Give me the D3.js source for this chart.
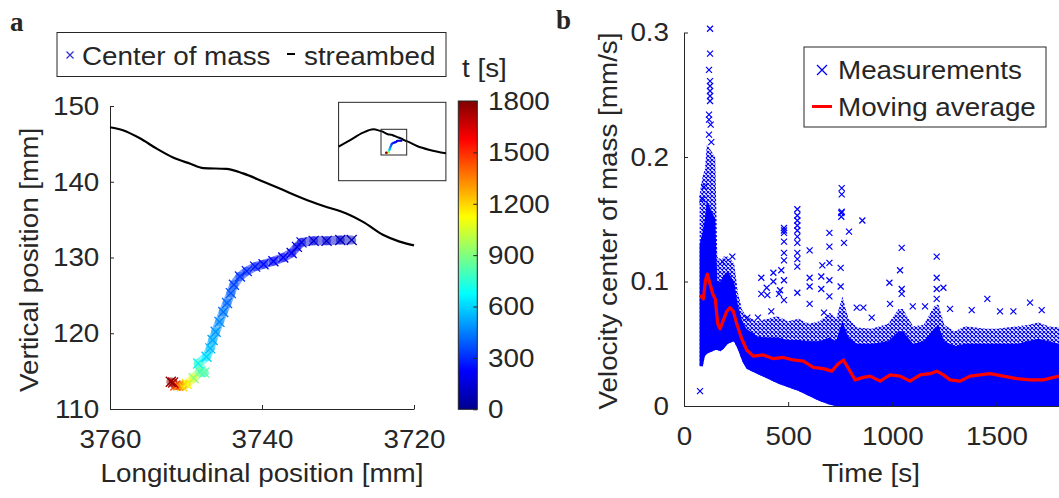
<!DOCTYPE html>
<html>
<head>
<meta charset="utf-8">
<script src="https://cdn.jsdelivr.net/npm/d3@7"></script>
<style>
  body { margin: 0; background: #fff; }
  text { font-family: "Liberation Sans", Arial, sans-serif; fill: #262626; }
</style>
</head>
<body>
<div id="chart"></div>
<script>
// ---- panel a : streambed and centre of mass ----
var bedX = [3760, 3758.3, 3756, 3753.9, 3751.7, 3749.5, 3747.7, 3744.7, 3742.5, 3739.8, 3737.2, 3734.6, 3731.9, 3728.9, 3726.7, 3724.1, 3721.9, 3720];
var bedY = [147.2, 146.8, 145.7, 144.4, 143.2, 142.4, 141.8, 141.7, 141.1, 140.0, 138.9, 137.8, 136.8, 135.8, 134.7, 133.0, 132.1, 131.6];

// wider streambed shown in the inset (outside the main window)
var wideLeftX = [3826, 3808, 3788, 3772];
var wideLeftY = [122.9, 133.3, 144.7, 150.0];
var wideRightX = [3704, 3684, 3659];
var wideRightY = [124.0, 117.8, 112.6];

var comX = [3728.2, 3729.7, 3731.5, 3733.2, 3734.8, 3735.4, 3736.1, 3737.2, 3738.5, 3739.8, 3740.9, 3742.0, 3742.9, 3743.7, 3744.1, 3744.6, 3745.1, 3745.6, 3746.1, 3746.5, 3746.8, 3747.3, 3748.4, 3747.6, 3748.2, 3749.0, 3749.9, 3750.5, 3751.0, 3751.4, 3751.7, 3752.0];
var comY = [132.3, 132.3, 132.2, 132.2, 132.0, 131.4, 130.6, 130.0, 129.5, 129.1, 128.8, 128.2, 127.5, 126.4, 125.3, 124.0, 122.8, 121.5, 120.2, 119.1, 118.0, 116.9, 116.0, 114.8, 114.9, 114.1, 113.3, 113.0, 113.1, 113.1, 113.5, 113.6];
var comT = [80, 100, 120, 140, 160, 175, 190, 205, 220, 240, 260, 285, 310, 340, 370, 400, 430, 460, 490, 520, 550, 590, 660, 840, 780, 930, 1100, 1200, 1300, 1450, 1700, 1780];

var cbTicks = [0, 300, 600, 900, 1200, 1500, 1800];

// ---- panel b : velocity ----
var maT = [77, 93, 103, 112, 125, 138, 150, 162, 173, 189, 205, 221, 237, 253, 277, 301, 333, 381, 429, 477, 525, 573, 621, 669, 709, 741, 765, 797, 821, 861, 893, 941, 989, 1037, 1085, 1133, 1181, 1213, 1245, 1277, 1325, 1373, 1421, 1469, 1533, 1597, 1661, 1725, 1800];
var maV = [0.089, 0.086, 0.101, 0.106, 0.098, 0.090, 0.086, 0.066, 0.062, 0.069, 0.076, 0.079, 0.076, 0.066, 0.054, 0.045, 0.040, 0.041, 0.038, 0.039, 0.037, 0.036, 0.031, 0.030, 0.028, 0.034, 0.037, 0.028, 0.021, 0.023, 0.024, 0.020, 0.025, 0.024, 0.020, 0.025, 0.026, 0.028, 0.025, 0.021, 0.020, 0.024, 0.025, 0.026, 0.024, 0.022, 0.021, 0.021, 0.024];

// envelope of the dense cloud of measurements
var bandT = [75, 90, 100, 110, 150, 160, 175, 190, 210, 240, 260, 280, 300, 350, 400, 450, 500, 550, 600, 650, 700, 730, 760, 790, 830, 900, 980, 1030, 1050, 1100, 1150, 1200, 1220, 1250, 1300, 1350, 1400, 1450, 1500, 1550, 1600, 1650, 1700, 1750, 1800];
var bandHi = [0.170, 0.185, 0.190, 0.210, 0.200, 0.120, 0.115, 0.120, 0.120, 0.115, 0.090, 0.077, 0.072, 0.068, 0.070, 0.072, 0.068, 0.070, 0.066, 0.068, 0.075, 0.070, 0.088, 0.070, 0.063, 0.062, 0.066, 0.078, 0.078, 0.064, 0.065, 0.080, 0.082, 0.065, 0.060, 0.064, 0.063, 0.062, 0.062, 0.063, 0.064, 0.065, 0.067, 0.064, 0.063];
var coreHi = [0.130, 0.140, 0.150, 0.165, 0.150, 0.100, 0.100, 0.105, 0.108, 0.100, 0.080, 0.068, 0.062, 0.056, 0.055, 0.055, 0.053, 0.053, 0.052, 0.052, 0.055, 0.052, 0.068, 0.055, 0.050, 0.050, 0.052, 0.060, 0.060, 0.050, 0.052, 0.062, 0.065, 0.052, 0.048, 0.050, 0.050, 0.050, 0.050, 0.050, 0.050, 0.052, 0.054, 0.052, 0.050];
var bandLo = [0.032, 0.032, 0.040, 0.042, 0.045, 0.045, 0.044, 0.046, 0.050, 0.052, 0.045, 0.036, 0.030, 0.026, 0.022, 0.018, 0.015, 0.012, 0.008, 0.004, 0.001, 0, 0, 0, 0, 0, 0, 0, 0, 0, 0, 0, 0, 0, 0, 0, 0, 0, 0, 0, 0, 0, 0, 0, 0];

// isolated measurements above the cloud
var outT = [125, 125, 120, 125, 125, 125, 125, 125, 120, 120, 128, 120, 131, 96, 88, 77,
  184, 232, 304, 355, 371, 371, 397, 400, 419, 429, 429, 456, 461, 467,
  480, 480, 480, 480, 480, 480, 480, 480,
  544, 544, 544, 544, 544, 544, 544, 544, 544, 544, 544,
  603, 603, 603, 603, 664, 659, 659, 672,
  698, 698, 698, 698, 698, 755, 755, 757, 757, 757, 768, 752, 752,
  792, 856, 829, 861, 901, 986, 989, 1037, 1045, 1045, 1045, 1098, 1157,
  1213, 1213, 1213, 1213, 1245, 1277, 1381, 1456, 1517, 1581, 1661, 1717];
var outV = [0.303, 0.283, 0.270, 0.261, 0.257, 0.253, 0.249, 0.245, 0.234, 0.230, 0.226, 0.218, 0.212, 0.176, 0.166, 0.012,
  0.116, 0.120, 0.071, 0.071, 0.103, 0.090, 0.095, 0.089, 0.076, 0.107, 0.100, 0.090, 0.093, 0.109,
  0.143, 0.139, 0.132, 0.123, 0.117, 0.101, 0.085, 0.141,
  0.158, 0.153, 0.149, 0.145, 0.141, 0.136, 0.131, 0.123, 0.118, 0.112, 0.091,
  0.125, 0.103, 0.096, 0.082, 0.113, 0.104, 0.094, 0.075,
  0.139, 0.128, 0.115, 0.101, 0.088, 0.155, 0.152, 0.175, 0.170, 0.156, 0.131, 0.111, 0.096,
  0.140, 0.149, 0.079, 0.079, 0.071, 0.099, 0.082, 0.109, 0.127, 0.094, 0.090, 0.080, 0.080,
  0.120, 0.103, 0.094, 0.086, 0.095, 0.078, 0.077, 0.086, 0.076, 0.076, 0.083, 0.077];

var svgWidth = 1059;
var svgHeight = 498;
var ink = "#262626";
var fs = 26, sx = 1.07;

var svg = d3.select("#chart")
  .append("svg")
  .attr("width", svgWidth)
  .attr("height", svgHeight);

function label(x, y, str, anchor, rot) {
  return svg.append("text")
    .attr("transform", `translate(${x},${y})` + (rot ? ` rotate(${rot})` : "") + ` scale(${sx},1)`)
    .attr("text-anchor", anchor || "start")
    .attr("font-size", fs)
    .text(str);
}
function crossPath(s) {
  return `M${-s},${-s}L${s},${s}M${-s},${s}L${s},${-s}`;
}
function styleAxis(g) {
  g.select(".domain").attr("stroke", ink);
  g.selectAll(".tick line").attr("stroke", ink);
  g.selectAll(".tick text")
    .attr("font-size", fs)
    .attr("fill", ink)
    .style("font-family", '"Liberation Sans", Arial, sans-serif')
    .attr("transform", `scale(${sx},1)`);
}

// jet colormap
var jet = d3.scaleLinear()
  .domain([0, 0.125, 0.375, 0.625, 0.875, 1].map(f => f * 1800))
  .range(["#00008f", "#0000ff", "#00ffff", "#ffff00", "#ff0000", "#800000"]);

// panel letters
svg.append("text").attr("x", 10).attr("y", 31).attr("font-size", 27).attr("font-weight", "bold")
  .style("font-family", '"Liberation Serif", "Times New Roman", serif').attr("fill", "#000").text("a");
svg.append("text").attr("x", 556).attr("y", 29).attr("font-size", 27).attr("font-weight", "bold")
  .style("font-family", '"Liberation Serif", "Times New Roman", serif').attr("fill", "#000").text("b");

// ================= panel a =================
var x = d3.scaleLinear().domain([3760, 3720]).range([110, 414]);
var y = d3.scaleLinear().domain([110, 150]).range([409, 106]);

svg.append("g")
  .attr("transform", `translate(0,${y(110)})`)
  .call(d3.axisBottom(x).tickValues([3760, 3740, 3720]).tickFormat(d3.format("d"))
    .tickSize(-4).tickSizeOuter(0).tickPadding(21))
  .call(styleAxis);
svg.append("g")
  .attr("transform", `translate(${x(3760)},0)`)
  .call(d3.axisLeft(y).tickValues([110, 120, 130, 140, 150]).tickSize(-4).tickSizeOuter(0).tickPadding(10))
  .call(styleAxis);

label(262, 482, "Longitudinal position [mm]", "middle");
label(38, 260, "Vertical position [mm]", "middle", -90);

var bed = bedX.map((d, i) => ({x: d, y: bedY[i]}));
var bedLine = d3.line().x(d => x(d.x)).y(d => y(d.y)).curve(d3.curveMonotoneX);
svg.append("path")
  .datum(bed)
  .attr("d", bedLine)
  .attr("fill", "none")
  .attr("stroke", "#000")
  .attr("stroke-width", 2.2);

var com = comX.map((d, i) => ({x: d, y: comY[i], t: comT[i]}));
var comG = svg.append("g");
comG.selectAll("line")
  .data(com.slice(1))
  .enter()
  .append("line")
  .attr("x1", (d, i) => x(com[i].x))
  .attr("y1", (d, i) => y(com[i].y))
  .attr("x2", d => x(d.x))
  .attr("y2", d => y(d.y))
  .attr("stroke", d => jet(d.t))
  .attr("stroke-width", 9)
  .attr("stroke-linecap", "round")
  .attr("opacity", 0.5);
comG.selectAll("path")
  .data(com)
  .enter()
  .append("path")
  .attr("d", crossPath(5))
  .attr("transform", d => `translate(${x(d.x)},${y(d.y)})`)
  .attr("stroke", d => jet(d.t))
  .attr("stroke-width", 1.3)
  .attr("fill", "none");

// inset
var xi = d3.scaleLinear().domain([3760, 3720]).range([381, 406.7]);
var yi = d3.scaleLinear().domain([110, 150]).range([155, 129.3]);
var insetX = [3826, 3659], insetY = [70, 192];
svg.append("rect")
  .attr("x", xi(insetX[0])).attr("y", yi(insetY[1]))
  .attr("width", xi(insetX[1]) - xi(insetX[0]))
  .attr("height", yi(insetY[0]) - yi(insetY[1]))
  .attr("fill", "#fff").attr("stroke", ink).attr("stroke-width", 1);
var wideBed = wideLeftX.map((d, i) => ({x: d, y: wideLeftY[i]}))
  .concat(bed)
  .concat(wideRightX.map((d, i) => ({x: d, y: wideRightY[i]})));
svg.append("path")
  .datum(wideBed)
  .attr("d", d3.line().x(d => xi(d.x)).y(d => yi(d.y)).curve(d3.curveMonotoneX))
  .attr("fill", "none").attr("stroke", "#000").attr("stroke-width", 2);
svg.selectAll(".inset-com")
  .data(com)
  .enter()
  .append("circle")
  .attr("class", "inset-com")
  .attr("cx", d => xi(d.x)).attr("cy", d => yi(d.y))
  .attr("r", 1.1)
  .attr("fill", d => jet(d.t));
svg.append("rect")
  .attr("x", xi(3760)).attr("y", yi(150))
  .attr("width", xi(3720) - xi(3760)).attr("height", yi(110) - yi(150))
  .attr("fill", "none").attr("stroke", ink).attr("stroke-width", 1);

// colorbar
var cb = d3.scaleLinear().domain([0, 1800]).range([409.3, 101]);
var grad = svg.append("defs").append("linearGradient")
  .attr("id", "jetgrad").attr("x1", 0).attr("y1", 1).attr("x2", 0).attr("y2", 0);
grad.selectAll("stop")
  .data(jet.domain())
  .enter()
  .append("stop")
  .attr("offset", d => d / 1800)
  .attr("stop-color", d => jet(d));
svg.append("rect")
  .attr("x", 458.3).attr("y", cb(1800))
  .attr("width", 19).attr("height", cb(0) - cb(1800))
  .attr("fill", "url(#jetgrad)").attr("stroke", ink).attr("stroke-width", 1);
svg.append("g")
  .attr("transform", "translate(477.3,0)")
  .call(d3.axisRight(cb).tickValues(cbTicks).tickFormat(d3.format("d"))
    .tickSize(-4).tickSizeOuter(0).tickPadding(10))
  .call(styleAxis)
  .call(g => g.select(".domain").remove());
label(462, 77, "t [s]");

// legend a
svg.append("rect").attr("x", 57).attr("y", 32.5).attr("width", 389).attr("height", 44)
  .attr("fill", "#fff").attr("stroke", ink).attr("stroke-width", 1);
svg.append("path").attr("d", crossPath(3.5)).attr("transform", "translate(70,55)")
  .attr("stroke", "#3030c8").attr("stroke-width", 1.2);
label(82, 65, "Center of mass");
svg.append("line").attr("x1", 287).attr("x2", 295).attr("y1", 54).attr("y2", 54)
  .attr("stroke", "#000").attr("stroke-width", 2);
label(304, 65, "streambed");

// ================= panel b =================
var x2 = d3.scaleLinear().domain([0, 1800]).range([684, 1059]);
var y2 = d3.scaleLinear().domain([0, 0.3]).range([406, 32.5]);

var defs = svg.select("defs");
defs.append("clipPath").attr("id", "clipb")
  .append("rect").attr("x", 684).attr("y", 0).attr("width", 375).attr("height", 420);
var pat = defs.append("pattern")
  .attr("id", "xpat").attr("patternUnits", "userSpaceOnUse")
  .attr("width", 4).attr("height", 4);
pat.append("path").attr("d", "M0,0L4,4M4,0L0,4")
  .attr("stroke", "#0000ff").attr("stroke-width", 1.1);

var band = bandT.map((d, i) => ({t: d, lo: bandLo[i], hi: bandHi[i], core: coreHi[i]}));
var plotB = svg.append("g").attr("clip-path", "url(#clipb)");

plotB.append("path")
  .datum(band)
  .attr("d", d3.area().x(d => x2(d.t)).y0(d => y2(d.lo)).y1(d => y2(d.hi)))
  .attr("fill", "url(#xpat)");
plotB.append("path")
  .datum(band)
  .attr("d", d3.area().x(d => x2(d.t)).y0(d => y2(d.lo)).y1(d => y2(d.core)))
  .attr("fill", "#0000ff");

plotB.selectAll(".out")
  .data(outT.map((d, i) => ({t: d, v: outV[i]})))
  .enter()
  .append("path")
  .attr("class", "out")
  .attr("d", crossPath(3))
  .attr("transform", d => `translate(${x2(d.t)},${y2(d.v)})`)
  .attr("stroke", "#0000ff")
  .attr("stroke-width", 1.2)
  .attr("fill", "none");

var ma = maT.map((d, i) => ({t: d, v: maV[i]}));
plotB.append("path")
  .datum(ma)
  .attr("d", d3.line().x(d => x2(d.t)).y(d => y2(d.v)))
  .attr("fill", "none")
  .attr("stroke", "#ff0000")
  .attr("stroke-width", 3.2)
  .attr("stroke-linejoin", "round");

svg.append("g")
  .attr("transform", `translate(0,${y2(0)})`)
  .call(d3.axisBottom(x2).tickValues([0, 500, 1000, 1500]).tickFormat(d3.format("d"))
    .tickSize(-4).tickSizeOuter(0).tickPadding(21))
  .call(styleAxis);
svg.append("g")
  .attr("transform", `translate(${x2(0)},0)`)
  .call(d3.axisLeft(y2).tickValues([0, 0.1, 0.2, 0.3]).tickFormat(d => d === 0 ? "0" : d.toFixed(1))
    .tickSize(-4).tickSizeOuter(0).tickPadding(14))
  .call(styleAxis);

label(871, 482, "Time [s]", "middle");
label(617, 221, "Velocity center of mass [mm/s]", "middle", -90);

// legend b
svg.append("rect").attr("x", 804).attr("y", 47).attr("width", 242).attr("height", 80)
  .attr("fill", "#fff").attr("stroke", ink).attr("stroke-width", 1);
svg.append("path").attr("d", crossPath(5)).attr("transform", "translate(822,70)")
  .attr("stroke", "#0000ff").attr("stroke-width", 1.3);
label(838, 79, "Measurements");
svg.append("line").attr("x1", 812).attr("x2", 832).attr("y1", 106.5).attr("y2", 106.5)
  .attr("stroke", "#ff0000").attr("stroke-width", 3);
label(838, 116, "Moving average");
</script>
</body>
</html>
